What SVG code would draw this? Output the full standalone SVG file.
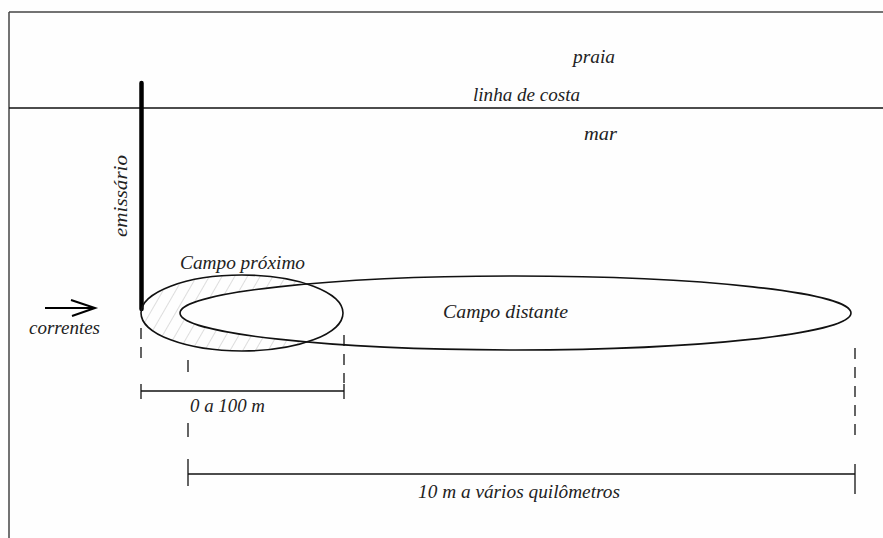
<svg xmlns="http://www.w3.org/2000/svg" width="883" height="538" viewBox="0 0 883 538">
  <style>
    .t { font-family: "Liberation Serif", "Times New Roman", serif; font-style: italic; fill: #222; font-size: 19px; }
    .frame { stroke: #444; stroke-width: 1.5; fill: none; }
    .ln { stroke: #111; stroke-width: 1.3; fill: none; }
    .dash { stroke: #111; stroke-width: 1.3; fill: none; stroke-dasharray: 11 8; }
    .ell { stroke: #111; stroke-width: 1.6; fill: none; }
  </style>
  <defs>
    <pattern id="hatch" width="11" height="11" patternUnits="userSpaceOnUse" patternTransform="rotate(30)">
      <line x1="0" y1="0" x2="0" y2="11" stroke="#bdbdbd" stroke-width="1"/>
    </pattern>
    <mask id="crescent">
      <ellipse cx="242" cy="313" rx="101" ry="38" fill="#fff"/>
      <ellipse cx="515.5" cy="313" rx="335.5" ry="37" fill="#000"/>
    </mask>
  </defs>
  <rect width="883" height="538" fill="#fefefe"/>

  <g id="frame">
    <line class="frame" x1="9" y1="12" x2="883" y2="12"/>
    <line class="frame" x1="9" y1="12" x2="9" y2="538"/>
  </g>

  <g id="coastline">
    <line x1="9" y1="108" x2="883" y2="108" stroke="#111" stroke-width="1.5"/>
    <text class="t" x="473" y="101" textLength="107" lengthAdjust="spacingAndGlyphs">linha de costa</text>
  </g>
  <g id="praia"><text class="t" x="573" y="63" textLength="42" lengthAdjust="spacingAndGlyphs">praia</text></g>
  <g id="mar"><text class="t" x="584" y="140" textLength="33" lengthAdjust="spacingAndGlyphs">mar</text></g>

  <g id="emissario">
    <line x1="141.5" y1="83" x2="141.5" y2="309" stroke="#000" stroke-width="4.5" stroke-linecap="round"/>
    <text class="t" transform="translate(127 237) rotate(-90)" x="0" y="0" textLength="82" lengthAdjust="spacingAndGlyphs">emissário</text>
  </g>

  <g id="correntes">
    <line x1="45" y1="308" x2="95" y2="308" stroke="#000" stroke-width="2"/>
    <polyline points="71,300 95,308 72,316" stroke="#000" stroke-width="2" fill="none"/>
    <text class="t" x="29" y="334" textLength="71" lengthAdjust="spacingAndGlyphs">correntes</text>
  </g>

  <g id="hatching">
    <rect x="140" y="274" width="205" height="80" fill="url(#hatch)" mask="url(#crescent)"/>
  </g>

  <g id="campo-proximo">
    <ellipse class="ell" cx="242" cy="313" rx="101" ry="38"/>
    <text class="t" x="180" y="269" textLength="125" lengthAdjust="spacingAndGlyphs" fill="#1c1c3a">Campo próximo</text>
  </g>

  <g id="campo-distante">
    <ellipse class="ell" cx="515.5" cy="313" rx="335.5" ry="37"/>
    <text class="t" x="443" y="318" textLength="125" lengthAdjust="spacingAndGlyphs">Campo distante</text>
  </g>

  <g id="connectors">
    <!-- extension lines -->
    <line class="dash" x1="141" y1="328" x2="141" y2="362"/>
    <line class="dash" x1="344" y1="335" x2="344" y2="383"/>
    <line class="ln" x1="188" y1="360" x2="188" y2="372"/>
    <line class="ln" x1="188" y1="423" x2="188" y2="437"/>
    <line class="dash" x1="855" y1="348" x2="855" y2="440" stroke-dasharray="11 9"/>
    <!-- dimension 0 a 100 m -->
    <line class="ln" x1="141" y1="391" x2="344" y2="391"/>
    <line class="ln" x1="141" y1="384" x2="141" y2="399"/>
    <line class="ln" x1="344" y1="384" x2="344" y2="399"/>
    <!-- dimension 10 m a varios km -->
    <line class="ln" x1="188" y1="474" x2="855" y2="474"/>
    <line class="ln" x1="188" y1="459" x2="188" y2="486"/>
    <line class="ln" x1="855" y1="464" x2="855" y2="494"/>
  </g>

  <g id="label-0-100"><text class="t" x="190" y="412" textLength="75" lengthAdjust="spacingAndGlyphs">0 a 100 m</text></g>
  <g id="label-10m"><text class="t" x="418" y="498" textLength="202" lengthAdjust="spacingAndGlyphs">10 m a vários quilômetros</text></g>
</svg>
